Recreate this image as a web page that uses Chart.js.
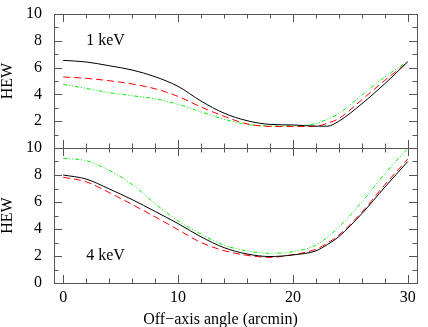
<!DOCTYPE html>
<html>
<head>
<meta charset="utf-8">
<script src="https://cdn.jsdelivr.net/npm/chart.js@4/dist/chart.umd.min.js"></script>
<style>
  body { margin: 0; background: #fff; }
  #wrap { position: relative; width: 428px; height: 327px; }
  canvas { position: absolute; left: 0; }
</style>
</head>
<body>
<div id="wrap">
  <canvas id="top-chart" width="428" height="160" style="top:0px"></canvas>
  <canvas id="bottom-chart" width="428" height="187" style="top:140px"></canvas>
</div>
<script>
// Off-axis angle (arcmin)
const angles = [0, 2, 4, 6, 8, 10, 12, 14, 16, 18, 20, 22, 23, 24, 26, 28, 30];

// HEW at 1 keV
const hew1Black = [6.54, 6.42, 6.14, 5.82, 5.32, 4.6, 3.5, 2.6, 2.04, 1.76, 1.72, 1.63, 1.63, 2.0, 3.3, 4.8, 6.44];
const hew1Red   = [5.3, 5.2, 5.02, 4.78, 4.42, 3.85, 3.06, 2.37, 1.8, 1.61, 1.6, 1.63, 1.85, 2.2, 3.6, 5.05, 6.4];
const hew1Green = [4.75, 4.45, 4.13, 3.9, 3.67, 3.26, 2.7, 2.15, 1.77, 1.64, 1.66, 1.83, 2.15, 2.57, 3.95, 5.3, 6.47];

// HEW at 4 keV
const hew4Black = [8.0, 7.7, 6.97, 6.18, 5.3, 4.4, 3.42, 2.62, 2.15, 1.96, 2.08, 2.38, 2.85, 3.44, 5.14, 7.1, 9.0];
const hew4Red   = [7.83, 7.5, 6.7, 5.82, 4.9, 3.95, 3.0, 2.4, 2.05, 1.9, 2.1, 2.5, 2.95, 3.55, 5.25, 7.28, 9.18];
const hew4Green = [9.23, 9.06, 8.35, 7.3, 5.88, 4.6, 3.62, 2.8, 2.38, 2.2, 2.32, 2.8, 3.4, 4.15, 6.0, 8.1, 9.97];

// tick labels
const xTickLabels = [0, 10, 20, 30];
const xMinorTicks = [0, 2, 4, 6, 8, 10, 12, 14, 16, 18, 20, 22, 24, 26, 28, 30];
const yTickLabelsTop = [2, 4, 6, 8, 10];
const yTickLabelsBottom = [0, 2, 4, 6, 8, 10];
const yMinorTicks = [1, 2, 3, 4, 5, 6, 7, 8, 9];
const yMajorTicks = [2, 4, 6, 8];

const panelLabels = ['1 keV', '4 keV'];
const panelLabelAt = [[2, 8], [2, 2]];

const FONT = '"Liberation Serif", "DejaVu Serif", serif';

// frame with inward ticks, panel label, x title
const framePlugin = {
  id: 'frame',
  afterDatasetsDraw(chart, args, opts) {
    const ctx = chart.ctx;
    const a = chart.chartArea;
    const x = chart.scales.x;
    const y = chart.scales.y;
    ctx.save();
    ctx.strokeStyle = '#555';
    ctx.lineWidth = 1;
    ctx.strokeRect(a.left + 0.5, a.top + 0.5, a.right - a.left, a.bottom - a.top);

    ctx.beginPath();
    xMinorTicks.forEach(v => {
      const px = Math.round(x.getPixelForValue(v)) + 0.5;
      const len = xTickLabels.includes(v) ? 8 : 4.5;
      ctx.moveTo(px, a.bottom);
      ctx.lineTo(px, a.bottom - len);
      ctx.moveTo(px, a.top);
      ctx.lineTo(px, a.top + len);
    });
    yMinorTicks.forEach(v => {
      const py = Math.round(y.getPixelForValue(v)) + 0.5;
      const len = yMajorTicks.includes(v) ? 8 : 4.5;
      ctx.moveTo(a.left, py);
      ctx.lineTo(a.left + len, py);
      ctx.moveTo(a.right, py);
      ctx.lineTo(a.right - len, py);
    });
    ctx.stroke();

    ctx.fillStyle = '#000';
    ctx.font = '16px ' + FONT;
    ctx.textAlign = 'left';
    ctx.textBaseline = 'middle';
    ctx.fillText(opts.label, x.getPixelForValue(opts.at[0]), y.getPixelForValue(opts.at[1]));

    if (opts.xTitle) {
      ctx.textAlign = 'center';
      ctx.fillText(opts.xTitle, (a.left + a.right) / 2 - 15, chart.height - 7);
    }
    ctx.restore();
  }
};

function line(values, color, dash) {
  return {
    data: angles.map((a, i) => ({ x: a, y: values[i] })),
    borderColor: color,
    borderWidth: 1,
    borderDash: dash,
    pointRadius: 0,
    fill: false,
    cubicInterpolationMode: 'monotone'
  };
}

function makePanel(id, series, yTicks, padding, index, showX) {
  const ctx = document.getElementById(id).getContext('2d');
  return new Chart(ctx, {
    type: 'line',
    data: {
      datasets: [
        line(series[0], '#000000', []),
        line(series[1], '#ff0000', [7, 4]),
        line(series[2], '#00ee00', [4, 2, 1, 2, 1, 2])
      ]
    },
    options: {
      responsive: false,
      animation: false,
      devicePixelRatio: 1,
      layout: { padding: padding },
      plugins: {
        legend: { display: false },
        tooltip: { enabled: false },
        frame: {
          label: panelLabels[index],
          at: panelLabelAt[index],
          xTitle: showX ? 'Off\u2212axis angle (arcmin)' : null
        }
      },
      scales: {
        x: {
          type: 'linear',
          min: -0.8,
          max: 30.8,
          display: showX,
          grid: { display: false, drawTicks: false },
          border: { display: false },
          afterBuildTicks: axis => { axis.ticks = xTickLabels.map(v => ({ value: v })); },
          afterFit: scale => {
            scale.height = showX ? 44 : 0;
            scale.paddingLeft = 0;
            scale.paddingRight = 0;
          },
          ticks: {
            color: '#000',
            padding: 5,
            maxRotation: 0,
            font: { family: FONT, size: 16 }
          }
        },
        y: {
          type: 'linear',
          min: 0,
          max: 10,
          grid: { display: false, drawTicks: false },
          border: { display: false },
          afterBuildTicks: axis => { axis.ticks = yTicks.map(v => ({ value: v })); },
          afterFit: scale => {
            scale.width = 54;
            scale.paddingTop = 0;
            scale.paddingBottom = 0;
          },
          title: {
            display: true,
            text: 'HEW',
            color: '#000',
            padding: 0,
            font: { family: FONT, size: 16, lineHeight: 1 }
          },
          ticks: {
            color: '#000',
            padding: 12,
            font: { family: FONT, size: 16 }
          }
        }
      }
    },
    plugins: [framePlugin]
  });
}

makePanel('top-chart', [hew1Black, hew1Red, hew1Green], yTickLabelsTop,
  { top: 14, bottom: 12, left: 0, right: 11 }, 0, false);
makePanel('bottom-chart', [hew4Black, hew4Red, hew4Green], yTickLabelsBottom,
  { top: 8, bottom: 0, left: 0, right: 11 }, 1, true);
</script>
</body>
</html>
